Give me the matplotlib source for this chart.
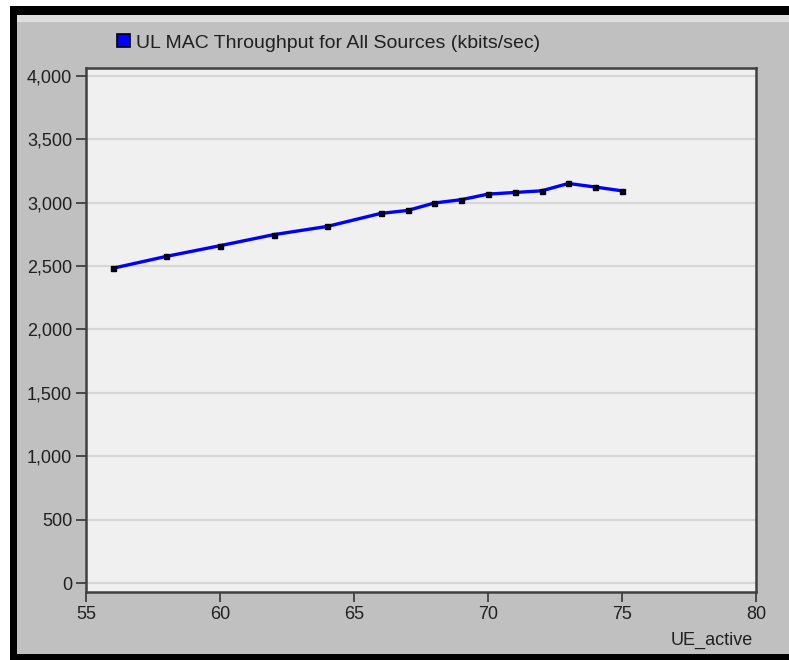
import matplotlib
matplotlib.use("Agg")
import matplotlib.pyplot as plt
from matplotlib.patches import Rectangle, Patch
from matplotlib.ticker import FuncFormatter

ue_active = [56, 58, 60, 62, 64, 66, 67, 68, 69, 70, 71, 72, 73, 74, 75]
throughput = [2483, 2577, 2661, 2748, 2813, 2916, 2939, 2998, 3024, 3068,
              3081, 3094, 3152, 3124, 3094]
x_ticks = [55, 60, 65, 70, 75, 80]
y_ticks = [0, 500, 1000, 1500, 2000, 2500, 3000, 3500, 4000]
series_label = "UL MAC Throughput for All Sources (kbits/sec)"
x_label = "UE_active"

W, H = 789, 660
plt.rcParams['font.family'] = ['Liberation Sans', 'DejaVu Sans']
fig = plt.figure(figsize=(W / 100, H / 100), dpi=100)
fig.patch.set_facecolor('white')

def fx(px):
    return px / W

def fy(py):
    return 1 - py / H

# frame: black border, gray panel, light strip at top
fig.patches.append(Rectangle((fx(10), 0), 1 - fx(10), fy(6), transform=fig.transFigure,
                             facecolor='black', edgecolor='none', zorder=-10))
fig.patches.append(Rectangle((fx(17), fy(654)), 1 - fx(17), fy(15) - fy(654),
                             transform=fig.transFigure, facecolor='#c0c0c0',
                             edgecolor='none', zorder=-9))
fig.patches.append(Rectangle((fx(17), fy(22)), 1 - fx(17), fy(15) - fy(22),
                             transform=fig.transFigure, facecolor='#dedede',
                             edgecolor='none', zorder=-8))

ax = fig.add_axes([fx(86), fy(592), fx(756) - fx(86), fy(68) - fy(592)])
ax.set_zorder(1)
ax.set_facecolor('#f0f0f0')
ax.set_xlim(55, 80)
ax.set_ylim(-71, 4063)
ax.set_xticks(x_ticks)
ax.set_yticks(y_ticks)
ax.yaxis.set_major_formatter(FuncFormatter(lambda v, p: f"{int(v):,}"))
ax.grid(axis='y', color='#d6d6d6', linewidth=1.5)
ax.set_axisbelow(True)
for s in ax.spines.values():
    s.set_color('#404040')
    s.set_linewidth(1.8)
ax.tick_params(direction='out', length=7, width=1.3, color='#404040',
               labelsize=13, labelcolor='#202020', pad=3)

ax.plot(ue_active, throughput, color='#0000ff', linewidth=2.4, marker='s',
        markersize=3.6, markerfacecolor='#000030', markeredgecolor='black',
        markeredgewidth=1.0, zorder=3)

handle = Patch(facecolor='#0000ff', edgecolor='black', linewidth=1.2)
fig.legend(handles=[handle], labels=[series_label], loc='center left',
           bbox_to_anchor=(fx(117), fy(43)), frameon=False, fontsize=14,
           handlelength=0.66, handleheight=0.66, handletextpad=0.3,
           borderpad=0, borderaxespad=0, labelcolor='#202020')

fig.text(fx(753), fy(640), x_label, ha='right', va='center', fontsize=13,
         color='#202020')

fig.savefig('out.png', dpi=100, facecolor=fig.get_facecolor())
